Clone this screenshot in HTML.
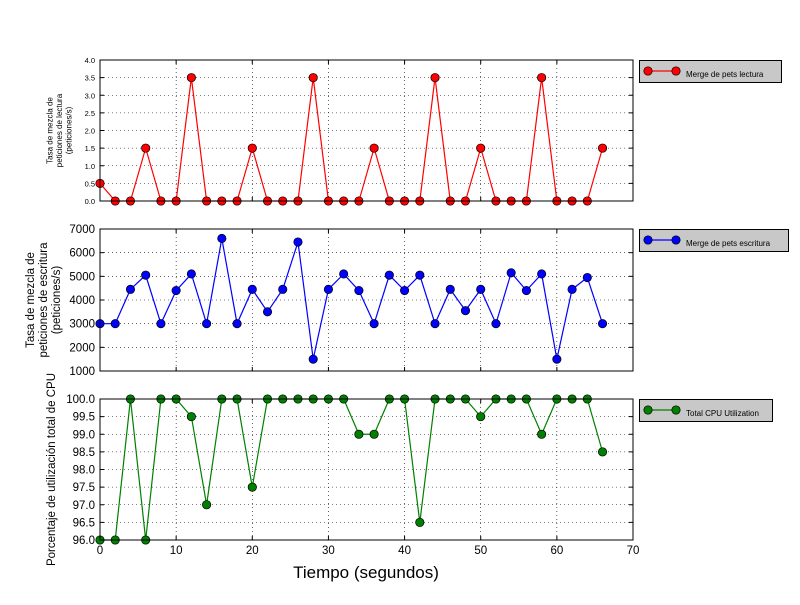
<!DOCTYPE html>
<html><head><meta charset="utf-8"><style>
body{margin:0;background:#fff;font-family:"Liberation Sans",sans-serif}
svg text{font-family:"Liberation Sans",sans-serif}
</style></head><body>
<svg id="c" width="800" height="600" xmlns="http://www.w3.org/2000/svg"></svg>
<script>
const xs = [0,2,4,6,8,10,12,14,16,18,20,22,24,26,28,30,32,34,36,38,40,42,44,46,48,50,52,54,56,58,60,62,64,66];
const readRate = [0.5,0,0,1.5,0,0,3.5,0,0,0,1.5,0,0,0,3.5,0,0,0,1.5,0,0,0,3.5,0,0,1.5,0,0,0,3.5,0,0,0,1.5];
const writeRate = [3000,3000,4450,5050,3000,4400,5100,3000,6600,3000,4450,3500,4450,6450,1500,4450,5100,4400,3000,5050,4400,5050,3000,4450,3550,4450,3000,5150,4400,5100,1500,4450,4950,3000];
const cpuUtil = [96,96,100,96,100,100,99.5,97,100,100,97.5,100,100,100,100,100,100,99,99,100,100,96.5,100,100,100,99.5,100,100,100,99,100,100,100,98.5];
const xTicks = [0,10,20,30,40,50,60,70];
const yTicks1 = [0,0.5,1,1.5,2,2.5,3,3.5,4];
const yTicks2 = [1000,2000,3000,4000,5000,6000,7000];
const yTicks3 = [96,96.5,97,97.5,98,98.5,99,99.5,100];
const NS='http://www.w3.org/2000/svg';
const svg=document.getElementById('c');
function mk(t,a,p){const e=document.createElementNS(NS,t);for(const k in a)e.setAttribute(k,a[k]);(p||svg).appendChild(e);return e;}
const L=100,R=633;
const xS=v=>L+(v/70)*(R-L);
function panel(name,top,bot,ymin,ymax,ticks,fmt,data,color,labelLines,labelSize,labelCx,legendText,legW){
  const g=mk('g',{});
  
  
  const yS=v=>bot-(v-ymin)/(ymax-ymin)*(bot-top);
  xTicks.forEach(t=>{const x=xS(t);
    const l=mk('line',{x1:x,x2:x,y1:top,y2:bot,stroke:'#000','stroke-width':0.6,'stroke-dasharray':'1,3'},g);
    
    mk('line',{x1:x,x2:x,y1:bot,y2:bot-4,stroke:'#000'},g);mk('line',{x1:x,x2:x,y1:top,y2:top+4,stroke:'#000'},g);
  });
  ticks.forEach(t=>{const y=yS(t);
    const l=mk('line',{x1:L,x2:R,y1:y,y2:y,stroke:'#000','stroke-width':0.6,'stroke-dasharray':'1,3'},g);
    
    mk('line',{x1:L,x2:L+4,y1:y,y2:y,stroke:'#000'},g);mk('line',{x1:R,x2:R-4,y1:y,y2:y,stroke:'#000'},g);
    const tx=mk('text',{x:L-5,y:y+(labelSize<9?3:4),'text-anchor':'end','font-size':labelSize<9?7.5:11.5},g);
    tx.textContent=fmt(t);
    
  });
  const pts=xs.map((x,i)=>xS(x)+','+yS(data[i])).join(' ');
  const pl=mk('polyline',{points:pts,fill:'none',stroke:color,'stroke-width':1.2},g);
  
  xs.forEach((x,i)=>{const c=mk('circle',{cx:xS(x),cy:yS(data[i]),r:4.2,fill:color,stroke:'#000','stroke-width':0.7},g);
    });
  const fr=mk('rect',{x:L,y:top,width:R-L,height:bot-top,fill:'none',stroke:'#000','stroke-width':1},g);
  
  const cy=(top+bot)/2, n=labelLines.length, lh=labelSize+1.5;
  labelLines.forEach((s,i)=>{const xx=labelCx+(i-(n-1)/2)*lh+labelSize*0.35;
    const t=mk('text',{x:xx,y:cy,'text-anchor':'middle','font-size':labelSize,transform:`rotate(-90 ${xx} ${cy})`},g);
    t.textContent=s;});
  const lg=mk('g',{},g);
  mk('rect',{x:639.5,y:top+0.5,width:legW,height:22,fill:'#c8c8c8',stroke:'#000'},lg);
  mk('line',{x1:648,x2:676,y1:top+11,y2:top+11,stroke:color,'stroke-width':1.2},lg);
  mk('circle',{cx:648,cy:top+11,r:4.2,fill:color,stroke:'#000','stroke-width':0.7},lg);
  mk('circle',{cx:676,cy:top+11,r:4.2,fill:color,stroke:'#000','stroke-width':0.7},lg);
  const lt=mk('text',{x:686,y:top+17,'font-size':8},lg);lt.textContent=legendText;
  
}
panel('read-merge',60,201,0,4,yTicks1,v=>v.toFixed(1),readRate,'#ff0000',['Tasa de mezcla de','peticiones de lectura','(peticiones/s)'],8,59,'Merge de pets lectura',142);
panel('write-merge',229,371,1000,7000,yTicks2,v=>String(v),writeRate,'#0000ff',['Tasa de mezcla de','peticiones de escritura','(peticiones/s)'],11.5,43,'Merge de pets escritura',149);
panel('cpu',399,540,96,100,yTicks3,v=>v.toFixed(1),cpuUtil,'#008000',['Porcentaje de utilización total de CPU'],11.5,51,'Total CPU Utilization',133);
xTicks.forEach(t=>{const tx=mk('text',{x:xS(t),y:554,'text-anchor':'middle','font-size':11.5});tx.textContent=t;
  });
const xt=mk('text',{x:366,y:578,'text-anchor':'middle','font-size':17});xt.textContent='Tiempo (segundos)';

</script>
</body></html>
